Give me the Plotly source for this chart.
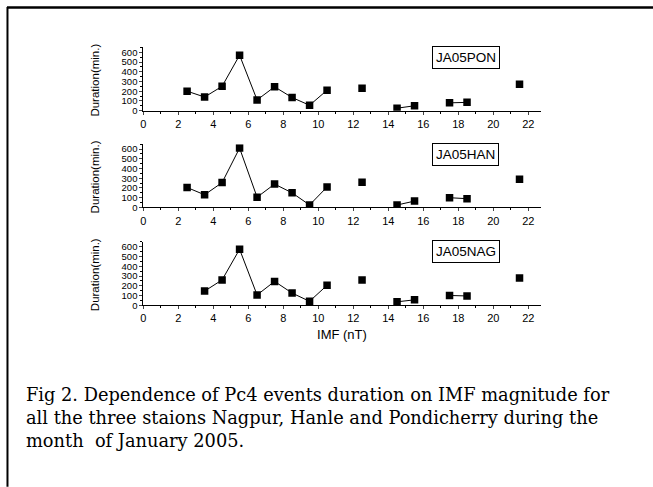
import plotly.graph_objects as go

W, H = 653, 487

imf = [2.5, 3.5, 4.5, 5.5, 6.5, 7.5, 8.5, 9.5, 10.5, 11.5, 12.5, 13.5, 14.5, 15.5, 16.5, 17.5, 18.5, 19.5, 20.5, 21.5]
dur_pon = [200, 140, 250, 570, 110, 245, 135, 55, 210, None, 230, None, 25, 50, None, 80, 85, None, None, 270]
dur_han = [205, 130, 255, 610, 105, 240, 150, 25, 210, None, 260, None, 25, 65, None, 100, 90, None, None, 290]
dur_nag = [None, 145, 260, 575, 105, 245, 125, 40, 205, None, 260, None, 35, 55, None, 100, 95, None, None, 280]
stations = ["JA05PON", "JA05HAN", "JA05NAG"]
series = [dur_pon, dur_han, dur_nag]
x_ticks = [0, 2, 4, 6, 8, 10, 12, 14, 16, 18, 20, 22]
y_ticks = [0, 100, 200, 300, 400, 500, 600]
caption_lines = [
    "Fig 2. Dependence of Pc4 events duration on IMF magnitude for",
    "all the three staions Nagpur, Hanle and Pondicherry during the",
    "month  of January 2005.",
]

def py(v):
    return 1 - v / H

def px(v):
    return v / W

# panel pixel extents (bottom, top)
panels = [(111, 47), (209, 145), (308, 244)]
x_left, x_right = 141, 540

fig = go.Figure()
layout = dict(
    width=W, height=H, margin=dict(l=0, r=0, t=0, b=0),
    paper_bgcolor="white", plot_bgcolor="white", showlegend=False,
    font=dict(family="Liberation Sans, Arial", color="black"),
)
annotations = []
for i, (st, ys) in enumerate(zip(stations, series)):
    n = "" if i == 0 else str(i + 1)
    fig.add_trace(go.Scatter(
        x=imf, y=ys, mode="lines+markers", connectgaps=False,
        line=dict(color="black", width=1),
        marker=dict(symbol="square", size=7.5, color="black"),
        xaxis="x" + n, yaxis="y" + n,
    ))
    b, t = panels[i]
    layout["xaxis" + n] = dict(
        domain=[px(x_left), px(x_right)], range=[0, 22.7], anchor="y" + n,
        tickvals=x_ticks, ticks="outside", ticklen=3, tickwidth=1,
        showline=True, linecolor="black", linewidth=1, showgrid=False, zeroline=False,
        tickfont=dict(size=11), minor=dict(dtick=1, ticks="outside", ticklen=2, tickcolor="black"),
        title=dict(text="IMF (nT)", font=dict(size=13), standoff=6) if i == 2 else None,
    )
    layout["yaxis" + n] = dict(
        domain=[py(b), py(t)], range=[0, 650], anchor="x" + n,
        tickvals=y_ticks, ticks="outside", ticklen=3, tickwidth=1,
        showline=True, linecolor="black", linewidth=1, showgrid=False, zeroline=False,
        tickfont=dict(size=9.5), minor=dict(dtick=50, ticks="outside", ticklen=2, tickcolor="black"),
    )
    annotations.append(dict(
        text="Duration(min.)", xref="paper", yref="paper", x=px(92), y=py((b + t) / 2 + 1),
        textangle=-90, showarrow=False, font=dict(size=11.5),
        xanchor="center", yanchor="middle",
    ))
    annotations.append(dict(
        text=st, xref="paper", yref="paper", x=px(465), y=py(t + 10),
        showarrow=False, font=dict(size=13.5), bordercolor="black", borderwidth=1,
        borderpad=3, bgcolor="white", xanchor="center", yanchor="middle",
    ))

for k, line in enumerate(caption_lines):
    annotations.append(dict(
        text=line, xref="paper", yref="paper", x=px(21), y=py(398 + 23.5 * k),
        xanchor="left", yanchor="middle", align="left", showarrow=False,
        font=dict(family="DejaVu Serif", size=17.8, color="black"),
    ))
layout["annotations"] = annotations
layout["shapes"] = [
    dict(type="line", xref="paper", yref="paper", x0=px(4), x1=1.01, y0=py(6.5), y1=py(6.5),
         line=dict(color="black", width=2.5)),
    dict(type="line", xref="paper", yref="paper", x0=px(4.5), x1=px(4.5), y0=py(6), y1=-0.01,
         line=dict(color="black", width=2)),
]
fig.update_layout(**layout)
fig.write_html("out.html")
